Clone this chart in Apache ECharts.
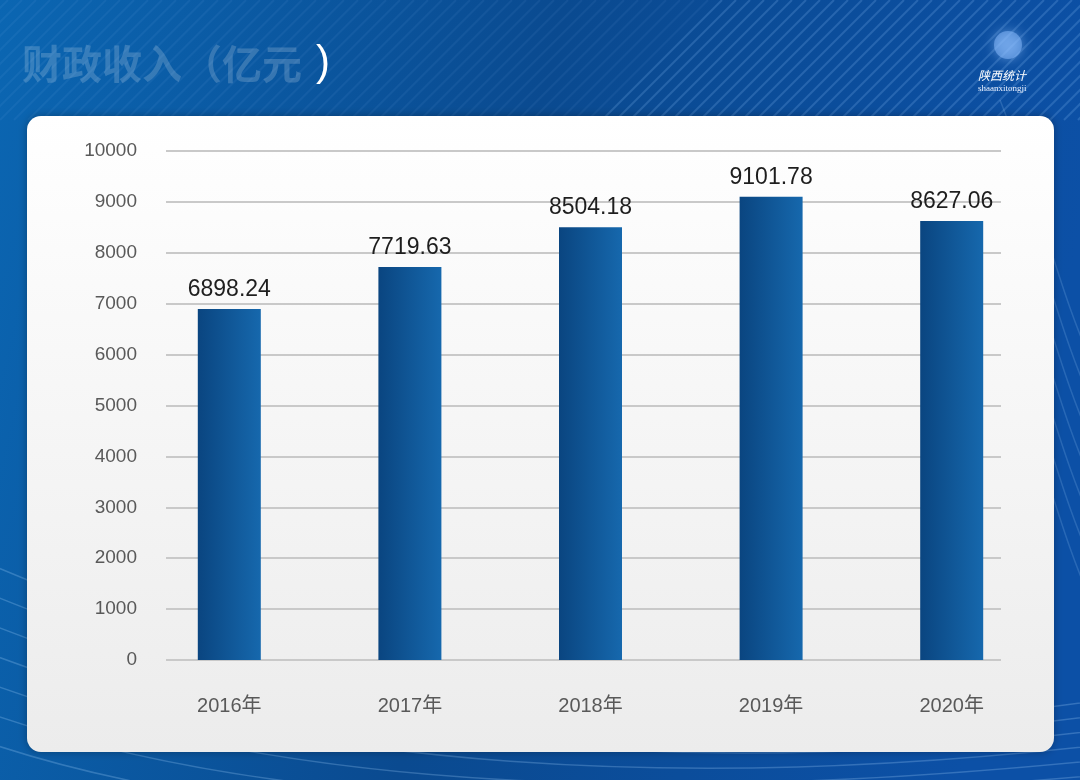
<!DOCTYPE html>
<html><head><meta charset="utf-8">
<script src="https://cdn.jsdelivr.net/npm/echarts@6/dist/echarts.min.js"></script>
<style>html,body{margin:0;padding:0;background:#0a4a8e}#c{width:1080px;height:780px}</style>
</head><body><div id="c"></div>
<script>
const categories = ['2016年','2017年','2018年','2019年','2020年'];
const values = [6898.24, 7719.63, 8504.18, 9101.78, 8627.06];
const yTicks = [0,1000,2000,3000,4000,5000,6000,7000,8000,9000,10000];
const titleText = '财政收入（亿元';

const chart = echarts.init(document.getElementById('c'));
const deco = [];
for (let i = -20; i < 80; i++) {
  const x = i * 14;
  deco.push({type:'line', silent:true, z:-9, shape:{x1:x, y1:120, x2:x+120, y2:0},
    style:{stroke:'rgba(150,200,255,' + (x > 600 ? 0.2 : 0.07) + ')', lineWidth:2}});
}
for (let k = 0; k < 7; k++) {
  deco.push({type:'bezierCurve', silent:true, z:-9,
    shape:{x1:-20, y1:560 + k*30, cpx1:300, cpy1:700 + k*25, cpx2:700, cpy2:760 + k*10, x2:1100, y2:700 + k*15},
    style:{stroke:'rgba(170,215,255,0.25)', lineWidth:1.5, fill:null}});
  deco.push({type:'bezierCurve', silent:true, z:-9,
    shape:{x1:1000, y1:100 + k*40, cpx1:1040, cpy1:200 + k*40, cpx2:1060, cpy2:300 + k*40, x2:1100, y2:380 + k*40},
    style:{stroke:'rgba(170,215,255,0.18)', lineWidth:1.5, fill:null}});
}

const option = {
  animation: false,
  backgroundColor: {type:'linear', x:0, y:0, x2:1, y2:0.3, colorStops:[
    {offset:0, color:'#0b66b2'}, {offset:0.5, color:'#0a4a90'}, {offset:1, color:'#0c50a6'}]},
  graphic: [
    ...deco,
    {type:'rect', z:-5, silent:true, shape:{x:27, y:116, width:1027, height:636, r:14},
      style:{fill:{type:'linear', x:0, y:0, x2:0, y2:1, colorStops:[{offset:0,color:'#ffffff'},{offset:1,color:'#ececec'}]},
        shadowBlur:8, shadowColor:'rgba(0,0,0,0.3)'}},
    {type:'text', z:10, left:22, top:44, style:{text:titleText, fill:'rgba(255,255,255,0.18)',
      font:'bold 40px "Noto Sans CJK SC"', shadowBlur:18, shadowColor:'#ffffff'}},
    {type:'text', z:10, left:316, top:42, style:{text:')', fill:'#ffffff', font:'42px "Liberation Sans"'}},
    {type:'circle', z:10, shape:{cx:1008, cy:45, r:14}, style:{fill:'rgba(140,190,255,0.5)', shadowBlur:12, shadowColor:'#9cc8ff'}},
    {type:'text', z:10, left:978, top:69, style:{text:'陕西统计', fill:'#ffffff', font:'italic 12px "Noto Sans CJK SC"'}},
    {type:'text', z:10, left:978, top:84, style:{text:'shaanxitongji', fill:'#e8f0ff', font:'9px "Liberation Serif"'}}
  ],
  grid: [
    {left:166, right:79, top:151, bottom:120},
    {left:139, right:38, top:151, bottom:120}
  ],
  xAxis: [
    {type:'category', gridIndex:0, data:categories, show:false},
    {type:'category', gridIndex:1, data:categories, axisLine:{show:false}, axisTick:{show:false},
      axisLabel:{margin:36, fontSize:20, color:'#595959', fontFamily:'Liberation Sans, "Noto Sans CJK SC"'}}
  ],
  yAxis: [
    {type:'value', gridIndex:0, min:0, max:10000, interval:1000,
      axisLine:{show:false}, axisTick:{show:false},
      axisLabel:{margin:29, fontSize:19, color:'#595959', fontFamily:'Liberation Sans',
        customValues: yTicks, formatter: v => String(v)},
      splitLine:{lineStyle:{color:'#c9c9c9', width:2}}},
    {type:'value', gridIndex:1, min:0, max:10000, interval:1000, show:false, splitLine:{show:false}}
  ],
  series: [{
    type:'bar', xAxisIndex:1, yAxisIndex:1, data:values, barWidth:63,
    itemStyle:{color:{type:'linear', x:0, y:0, x2:1, y2:0, colorStops:[
      {offset:0, color:'#0a4580'}, {offset:1, color:'#1668ad'}]}},
    label:{show:true, position:'top', distance:8, fontSize:23, color:'#1e1e1e', fontFamily:'Liberation Sans'}
  }]
};
chart.setOption(option);
</script></body></html>
